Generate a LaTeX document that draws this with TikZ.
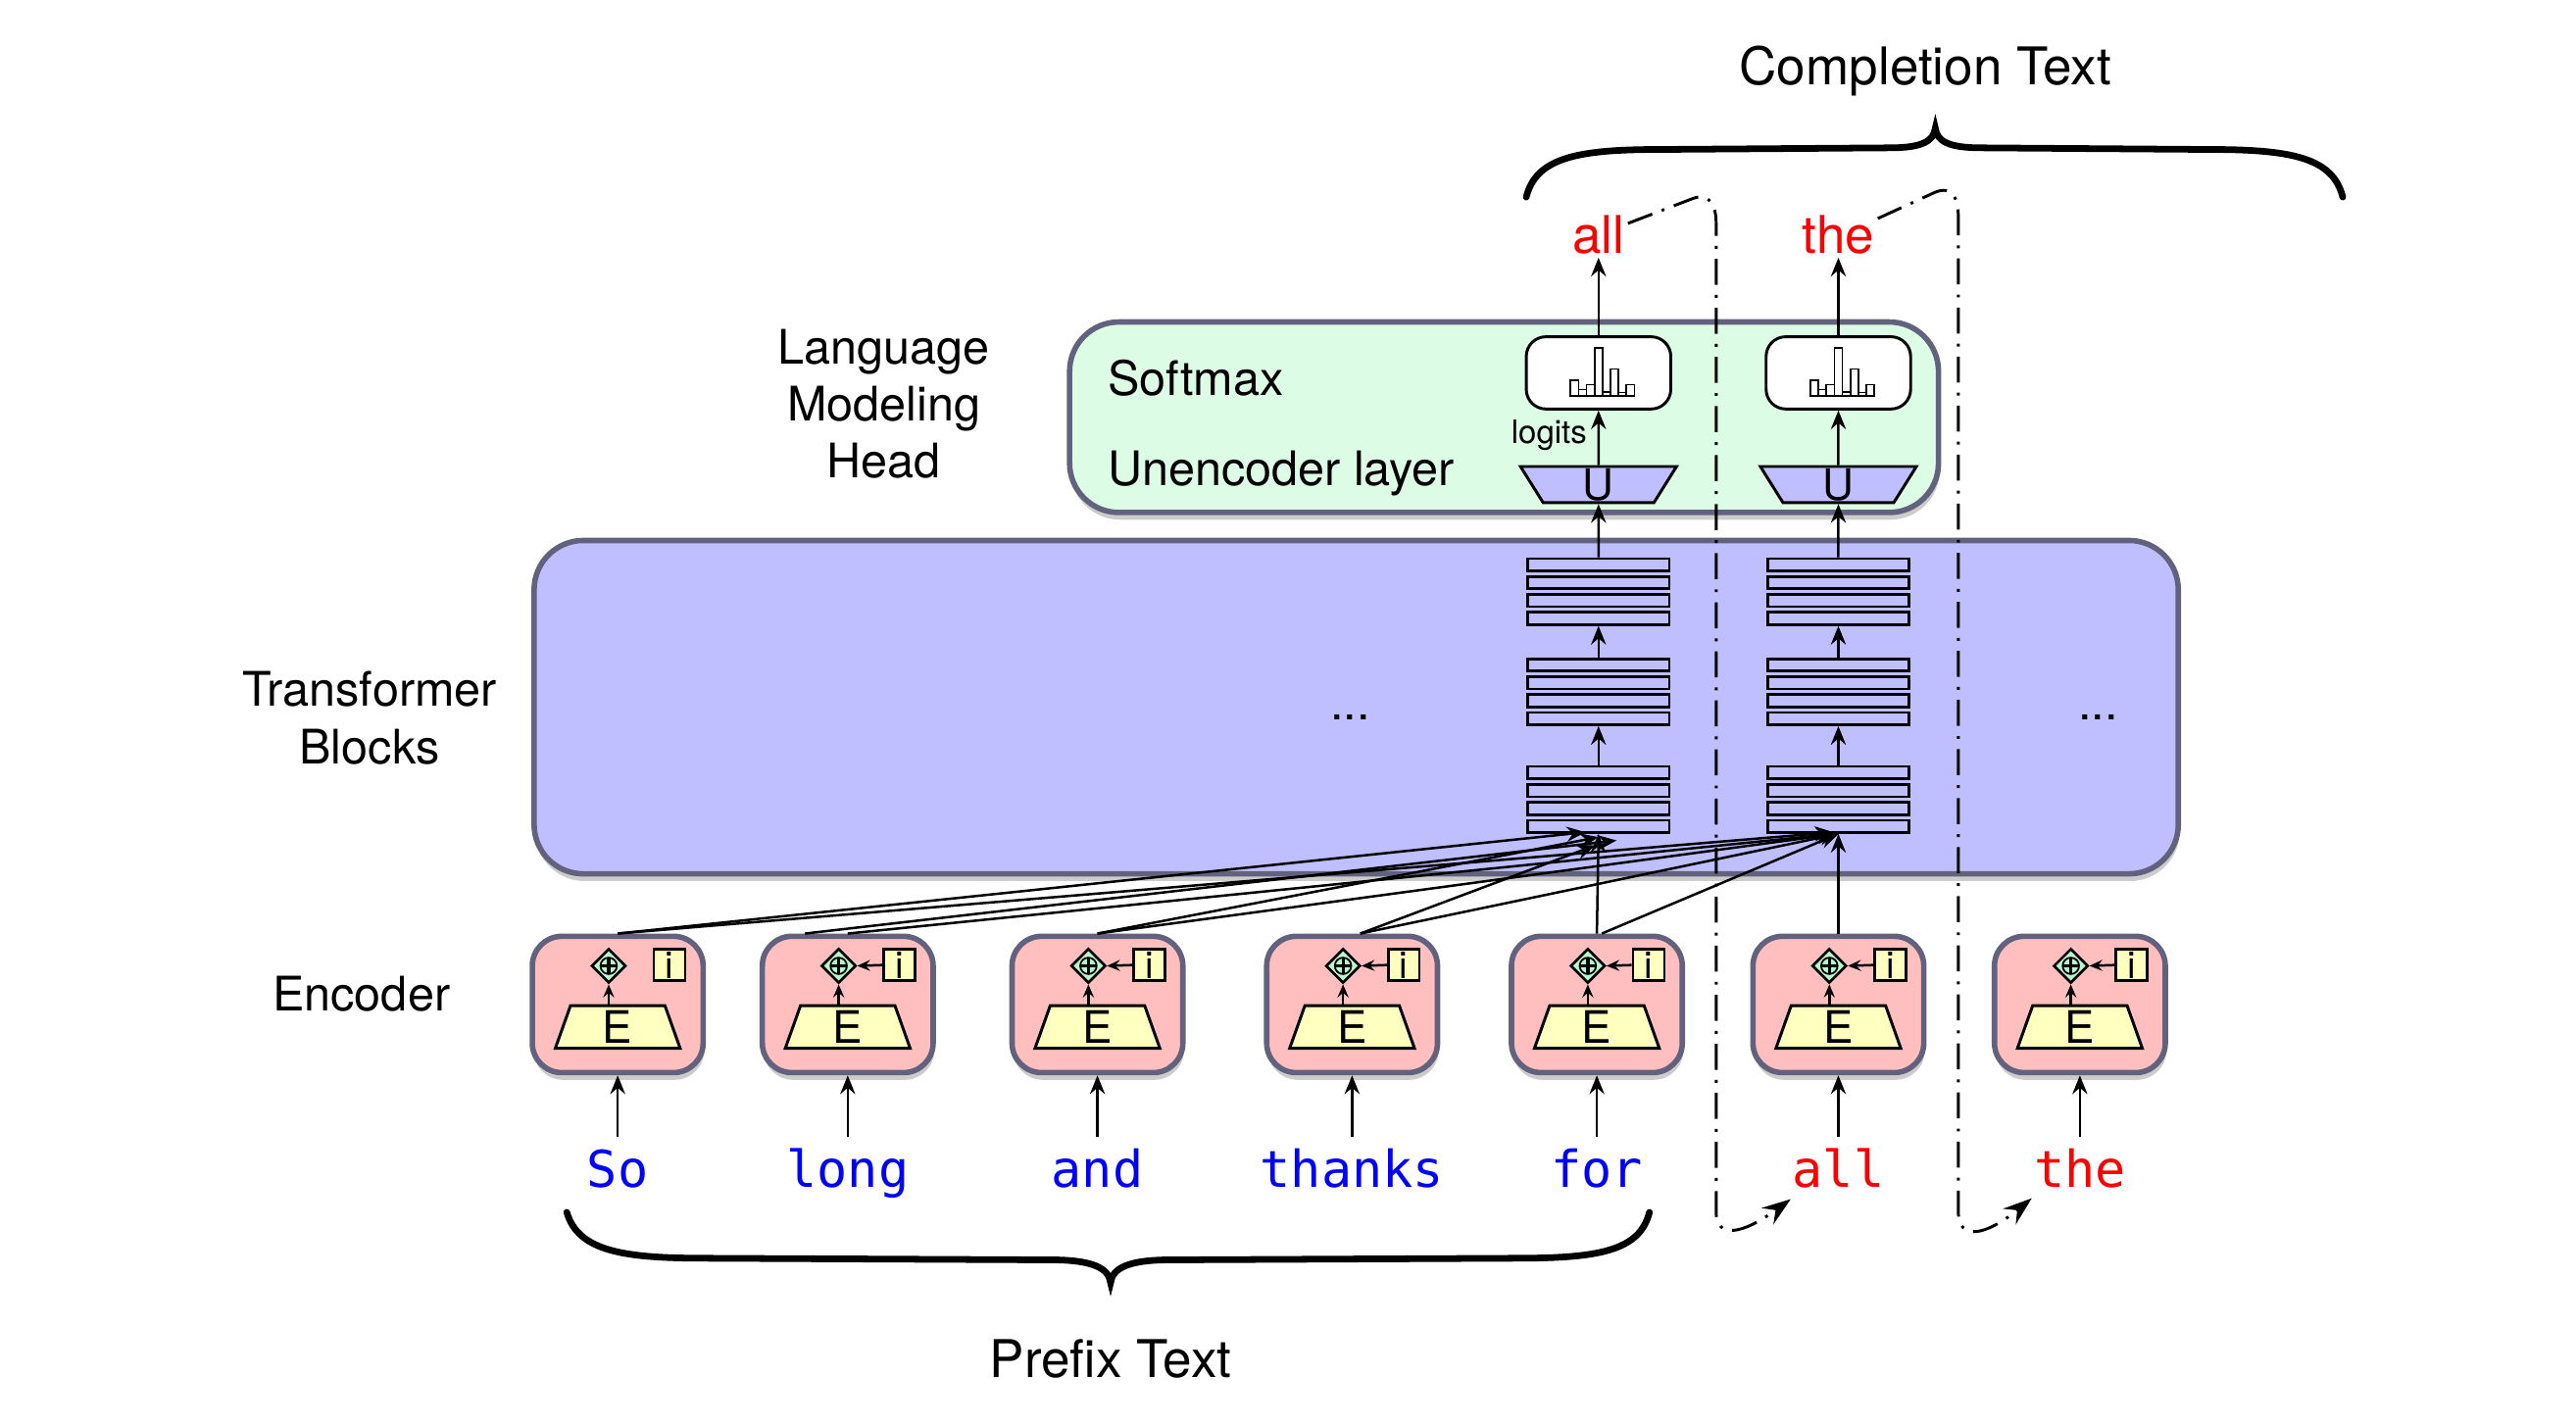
\documentclass[tikz,border=0pt]{standalone}
\usepackage{fontspec}
\setmainfont{TeX Gyre Heros}
\setmonofont{DejaVu Sans Mono}
\usetikzlibrary{calc,positioning,shapes.geometric,shadows,arrows.meta}

\definecolor{headgreen}{HTML}{DDFCE6}
\definecolor{blocklav}{HTML}{BFBFFF}
\definecolor{encpink}{HTML}{FFBFBF}
\definecolor{idyellow}{HTML}{FFFFBF}
\definecolor{plusgreen}{HTML}{B8F5C8}
\definecolor{rimgrey}{HTML}{62627F}

\newcommand{\lblfont}{\fontsize{16.5}{19.8}\selectfont}
\newcommand{\bigfont}{\fontsize{18}{21.6}\selectfont}
\newcommand{\tokfont}{\fontsize{17.6}{21}\selectfont\ttfamily}

\begin{document}
\begin{tikzpicture}[x=0.02cm,y=-0.02cm]

\tikzset{bigbox/.style={draw=rimgrey,line width=1.9pt,rounded corners=0.6cm,drop shadow={opacity=0.4,shadow xshift=0.4pt,shadow yshift=-2.5pt}},
encbox/.style={bigbox,fill=encpink,rounded corners=0.36cm,minimum width=2.08cm,minimum height=1.66cm},
layerbar/.style={draw,fill=blocklav,line width=0.9pt,inner sep=0pt,minimum width=1.72cm,minimum height=0.15cm},
probbox/.style={draw,fill=white,line width=1pt,rounded corners=0.24cm,minimum width=1.76cm,minimum height=0.88cm},
unenc/.style={trapezium,draw,fill=blocklav,line width=1pt,shape border rotate=180,trapezium angle=55,trapezium stretches body,minimum width=1.9cm,minimum height=0.44cm,inner sep=0pt,font=\fontsize{15}{15}\selectfont},
embed/.style={trapezium,draw,fill=idyellow,line width=1pt,trapezium angle=65,trapezium stretches body,minimum width=1.52cm,minimum height=0.52cm,inner sep=0pt,font=\fontsize{15.5}{15.5}\selectfont},
plusnode/.style={diamond,draw,fill=plusgreen,line width=0.9pt,inner sep=0pt,minimum size=0.42cm},
posbox/.style={draw,fill=idyellow,line width=0.9pt,inner sep=0pt,minimum size=0.38cm,font=\fontsize{13}{13}\selectfont},
tokword/.style={font=\tokfont,anchor=base,inner sep=4pt,text height=13.4pt,text depth=4pt},
arr/.style={-{Stealth[length=6.5pt,width=5.2pt,inset=2.2pt]},line width=0.85pt},
smallarr/.style={-{Stealth[length=4.5pt,width=3.8pt,inset=1.6pt]},line width=0.85pt},
feedback/.style={line width=1pt,dash pattern=on 9pt off 3.5pt on 1pt off 3.5pt,-{Stealth[length=10pt,width=7pt,inset=3.5pt]}},
curlybrace/.style={line width=2.3pt,line cap=round}}

\useasboundingbox (0,0) rectangle (1568,867.5);

% big boxes
\node[bigbox,fill=blocklav,minimum width=20.02cm,minimum height=4.06cm] (tf) at (825.5,430.5) {};
\node[bigbox,fill=headgreen,minimum width=10.58cm,minimum height=2.32cm] (lmhead) at (915.5,254) {};

% transformer layers
\foreach \k/\cx in {1/973,2/1119}{
  \foreach \g/\t in {1/340,2/401,3/466.6}{
    \foreach \r in {1,...,4}
      \node[layerbar] (b\k-\g-\r) at (\cx,{\t+3.8+(\r-1)*10.9}) {};
  }
  \draw[arr] (b\k-3-1.north) -- (b\k-2-4.south);
  \draw[arr] (b\k-2-1.north) -- (b\k-1-4.south);
}

% head: unencoder, softmax, output word
\foreach \k/\cx/\w in {1/973/all,2/1119/the}{
  \node[probbox] (soft\k) at (\cx,227) {};
  \foreach \i/\h in {0/9.3,1/3.8,2/6.8,3/29.2,4/2.4,5/16.3,6/2,7/6.8}
    \draw[line width=0.6pt,fill=white] ($(soft\k)+(-17+\i*4.86,14)$) rectangle ++(4.86,-\h);
  \node[unenc] (unenc\k) at (\cx,295) {U};
  \node[font=\bigfont,text=red,inner sep=1pt] (out\k) at (\cx,143) {\w};
  \draw[arr] (b\k-1-1.north) -- (unenc\k.south);
  \draw[arr] (unenc\k.north) -- (soft\k.south);
  \draw[arr] (soft\k.north) -- (out\k.south);
}
\node[anchor=east,inner sep=1pt,font=\fontsize{11.2}{12}\selectfont] (logit) at (968,265) {logits};
\node[anchor=west,inner sep=0pt,font=\lblfont] (softlabel) at (674,230) {Softmax};
\node[anchor=west,inner sep=0pt,font=\lblfont] (unenclabel) at (674,288) {Unencoder layer};

% encoders and input words
\foreach \n/\cx/\w/\col in {1/376/So/blue,2/516/long/blue,3/668/and/blue,4/823/thanks/blue,5/972/for/blue,6/1119/all/red,7/1266/the/red}{
  \node[encbox] (enc\n) at (\cx,611.5) {};
  \node[embed] (emb\n) at ($(enc\n)+(0,13.7)$) {E};
  \node[plusnode] (add\n) at ($(enc\n)+(-5.5,-23.5)$) {};
  \draw[line width=0.6pt] (add\n) circle [radius=0.1cm];
  \draw[line width=1.1pt] ($(add\n)+(-5,0)$) -- ($(add\n)+(5,0)$) ($(add\n)+(0,-5)$) -- ($(add\n)+(0,5)$);
  \node[posbox] (pos\n) at ($(enc\n)+(31.5,-24)$) {i};
  \draw[smallarr] (add\n.south |- emb\n.north) -- (add\n.south);
  \ifnum\n>1 \draw[smallarr] (pos\n.west) -- (add\n.east); \fi
  \node[tokword,text=\col] (tok\n) at (\cx,723) {\w};
  \draw[arr] (tok\n.north) -- (enc\n.south);
}

% encoder outputs into the first layer
\coordinate (in1) at (b1-3-4.south);
\coordinate (in2) at (b2-3-4.south);
\draw[arr] (enc1.north) -- ($(in1)+(-8,-1)$);
\draw[arr] (enc1.north) -- ($(in2)+(-3,-1)$);
\draw[arr] ([xshift=-0.52cm]enc2.north) -- ($(in1)+(11,4)$);
\draw[arr] (enc2.north) -- ($(in2)+(-2,0)$);
\draw[arr] (enc3.north) -- ($(in1)+(0,2)$);
\draw[arr] (enc3.north) -- ($(in2)+(-1,0)$);
\draw[arr] ([xshift=0.1cm]enc4.north) -- ($(in1)+(-2,7)$);
\draw[arr] ([xshift=0.1cm]enc4.north) -- (in2);
\draw[arr] (enc5.north) -- (in1);
\draw[arr] ([xshift=0.06cm]enc5.north) -- (in2);
\draw[arr] (enc6.north) -- (in2);

% output fed back as next input
\coordinate (fb1end) at (1090,730);
\coordinate (fb2end) at (1236.7,729.5);
\draw[feedback] ($(out1.east)+(0,-7)$) -- (1030,121) .. controls (1040,117) and (1044.6,124) .. (1044.6,136) -- (1044.6,738) .. controls (1044.6,754) and (1060,752) .. (fb1end);
\draw[feedback] ($(out2.east)+(0,-10)$) -- (1178,117) .. controls (1188,113) and (1192,120) .. (1192,132) -- (1192,738) .. controls (1192,755) and (1208,753) .. (fb2end);

% braces
\draw[curlybrace] (345,738) .. controls (352,762) and (380,766) .. (430,766) -- (640,767) .. controls (665,767) and (675,772) .. (676,781) .. controls (677,772) and (687,767) .. (712,767) -- (922,766) .. controls (972,766) and (998,762) .. (1004,738);
\draw[curlybrace] (929,120) .. controls (935,96) and (960,91) .. (1010,91) -- (1150,90) .. controls (1170,90) and (1177,86) .. (1178,78) .. controls (1179,86) and (1186,90) .. (1206,90) -- (1345,91) .. controls (1395,91) and (1420,96) .. (1426,120);

% labels
\node[font=\bigfont] (complabel) at (1172,43) {Completion Text};
\node[font=\bigfont] (prefixlabel) at (676,827) {Prefix Text};
\node[align=center,font=\lblfont] (lmlabel) at (538,246) {Language\\Modeling\\Head};
\node[align=center,font=\lblfont] (tflabel) at (225,437) {Transformer\\Blocks};
\node[font=\lblfont] (enclabel) at (220,605) {Encoder};
\node[font=\lblfont] (dots1) at (822,437) {...};
\node[font=\lblfont] (dots2) at (1277,437) {...};

\end{tikzpicture}
\end{document}
